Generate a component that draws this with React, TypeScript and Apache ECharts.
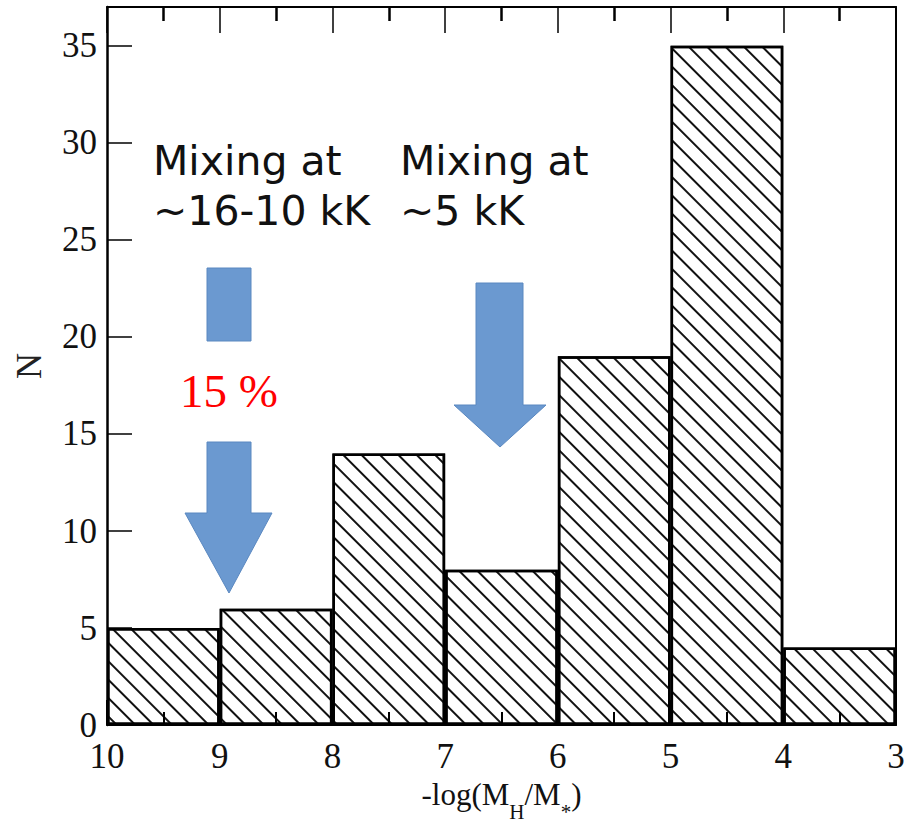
import React, { useEffect, useRef } from "react";
import * as echarts from "echarts";

// Histogram bins: left edge of each bin on -log(MH/M*) axis (axis runs 10 -> 3)
const binLeft = [10, 9, 8, 7, 6, 5, 4];
const binRight = [9, 8, 7, 6, 5, 4, 3];
const counts = [5, 6, 14, 8, 19, 35, 4];

const xTicks = [10, 9, 8, 7, 6, 5, 4, 3];
const yTicks = [0, 5, 10, 15, 20, 25, 30, 35];

const annotLeft = ["Mixing at", "~16-10 kK"];
const annotRight = ["Mixing at", "~5 kK"];
const percentLabel = "15 %";

const SERIF = "'Liberation Serif', 'Times New Roman', serif";
const SANS = "'DejaVu Sans', sans-serif";
const ARROW_FILL = "#6b99d0";
const ARROW_STROKE = "#5a88c0";

export default function App() {
  const ref = useRef<HTMLDivElement>(null);

  useEffect(() => {
    document.body.style.margin = "0";
    if (!ref.current) return;
    const chart = echarts.init(ref.current, undefined, { renderer: "svg" });

    const barData = binLeft.map((l, i) => [(l + binRight[i]) / 2, counts[i]]);

    const baseX = {
      type: "value" as const,
      min: xTicks[xTicks.length - 1],
      max: xTicks[0],
      interval: 1,
      inverse: true,
      splitLine: { show: false },
    };
    const baseY = {
      type: "value" as const,
      min: yTicks[0],
      max: 37,
      interval: 5,
      splitLine: { show: false },
    };

    const option = {
      animation: false,
      backgroundColor: "#ffffff",
      grid: { left: 107, right: 23, top: 7, bottom: 94, containLabel: false },
      xAxis: [
        {
          ...baseX,
          position: "bottom",
          z: 5,
          axisLine: { show: true, onZero: false, lineStyle: { color: "#000", width: 2 } },
          axisTick: { show: true, inside: true, length: 25, lineStyle: { color: "#000", width: 2 } },
          minorTick: { show: true, splitNumber: 2, length: 13, lineStyle: { color: "#000", width: 2 } },
          axisLabel: {
            show: true,
            margin: 14,
            color: "#111",
            fontFamily: SERIF,
            fontSize: 35,
            formatter: (v: number) => (xTicks.includes(v) ? String(v) : ""),
          },
          name: "{a|-log(M}{s|H}{a|/M}{s|*}{a|)}",
          nameLocation: "middle",
          nameGap: 50,
          nameTextStyle: {
            rich: {
              a: { fontFamily: SERIF, fontSize: 31, color: "#111", verticalAlign: "top" },
              s: { fontFamily: SERIF, fontSize: 21, color: "#111", padding: [22, 0, 0, 0] },
            },
          },
        },
        {
          ...baseX,
          position: "top",
          z: 5,
          axisLine: { show: true, onZero: false, lineStyle: { color: "#000", width: 2 } },
          axisTick: { show: true, inside: true, length: 26, lineStyle: { color: "#000", width: 1.5 } },
          minorTick: { show: true, splitNumber: 2, length: 14, lineStyle: { color: "#000", width: 2.5 } },
          axisLabel: { show: false },
        },
      ],
      yAxis: [
        {
          ...baseY,
          position: "left",
          z: 5,
          axisLine: { show: true, onZero: false, lineStyle: { color: "#000", width: 2.5 } },
          axisTick: { show: true, inside: true, length: 25, lineStyle: { color: "#000", width: 1.5 } },
          axisLabel: {
            show: true,
            margin: 10,
            showMaxLabel: false,
            color: "#111",
            fontFamily: SERIF,
            fontSize: 35,
            formatter: (v: number) => (yTicks.includes(v) ? String(v) : ""),
          },
          name: "N",
          nameLocation: "middle",
          nameRotate: 90,
          nameGap: 60,
          nameTextStyle: { fontFamily: SERIF, fontSize: 36, color: "#222" },
        },
        {
          ...baseY,
          position: "right",
          z: 5,
          axisLine: { show: true, onZero: false, lineStyle: { color: "#000", width: 2 } },
          axisTick: { show: false },
          axisLabel: { show: false },
        },
      ],
      series: [
        {
          type: "bar",
          xAxisIndex: 0,
          yAxisIndex: 0,
          data: barData,
          barWidth: "100%",
          itemStyle: {
            color: "#ffffff",
            borderColor: "#000",
            borderWidth: 2.5,
            decal: {
              symbol: "rect",
              symbolSize: 1,
              color: "#111",
              backgroundColor: "#fff",
              dashArrayX: [1, 0],
              dashArrayY: [1.3, 10.7],
              rotation: Math.PI / 4,
            },
          },
        },
      ],
      graphic: [
        // left annotation text
        {
          type: "text",
          left: 153,
          top: 140,
          style: { text: annotLeft[0], font: `41px ${SANS}`, fill: "#111" },
        },
        {
          type: "text",
          left: 153,
          top: 190,
          style: { text: annotLeft[1], font: `41px ${SANS}`, fill: "#111" },
        },
        // right annotation text
        {
          type: "text",
          left: 400,
          top: 140,
          style: { text: annotRight[0], font: `41px ${SANS}`, fill: "#111" },
        },
        {
          type: "text",
          left: 400,
          top: 190,
          style: { text: annotRight[1], font: `41px ${SANS}`, fill: "#111" },
        },
        // left arrow stub
        {
          type: "polygon",
          shape: { points: [[207, 268], [251, 268], [251, 341], [207, 341]] },
          style: { fill: ARROW_FILL, stroke: ARROW_STROKE, lineWidth: 1 },
        },
        {
          type: "text",
          x: 229,
          y: 391,
          style: {
            text: percentLabel,
            font: `47px ${SERIF}`,
            fill: "#ff0000",
            align: "center",
            verticalAlign: "middle",
          },
        },
        // left arrow
        {
          type: "polygon",
          shape: {
            points: [
              [207, 442], [251, 442], [251, 513], [272, 513],
              [229, 593], [185, 513], [207, 513],
            ],
          },
          style: { fill: ARROW_FILL, stroke: ARROW_STROKE, lineWidth: 1 },
        },
        // right arrow
        {
          type: "polygon",
          shape: {
            points: [
              [476, 283], [523, 283], [523, 405], [546, 405],
              [500, 447], [454, 405], [476, 405],
            ],
          },
          style: { fill: ARROW_FILL, stroke: ARROW_STROKE, lineWidth: 1 },
        },
      ],
    };

    chart.setOption(option as any);
    return () => chart.dispose();
  }, []);

  return (
    <div
      ref={ref}
      style={{ position: "absolute", left: 0, top: 0, width: 919, height: 827 }}
    />
  );
}
